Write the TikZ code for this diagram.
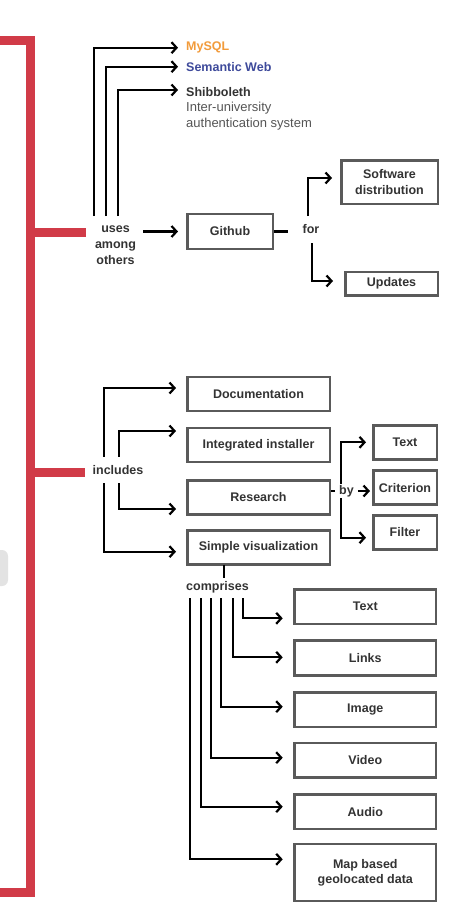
\documentclass[tikz,border=0pt]{standalone}
\usepackage{fontspec}
\setmainfont{Liberation Sans}
\usetikzlibrary{arrows.meta}
\definecolor{redc}{HTML}{D13B48}
\definecolor{boxc}{HTML}{5A5A5A}
\definecolor{txtc}{HTML}{333333}
\definecolor{subc}{HTML}{555555}
\definecolor{orc}{HTML}{F29B3B}
\definecolor{bluec}{HTML}{3E4A9B}
\begin{document}
\begin{tikzpicture}[x=1pt,y=-1pt,
 box/.style={draw=boxc, line width=2.5pt, text=txtc, font=\bfseries\fontsize{12.5}{16}\selectfont, inner sep=0pt, align=center},
 lbl/.style={text=txtc, font=\bfseries\fontsize{12.5}{16}\selectfont, inner sep=0pt, align=center},
 toptxt/.style={anchor=west, inner sep=0pt, font=\bfseries\fontsize{12.5}{16}\selectfont},
 subtxt/.style={anchor=west, inner sep=0pt, text=subc, font=\fontsize{13}{16}\selectfont},
 arr/.style={line width=2.2pt, -{Straight Barb[length=5pt,width=11pt]}},
 ln/.style={line width=2.2pt},
 redline/.style={draw=redc, line width=9pt}]
\useasboundingbox (0,0) rectangle (450,910);
\fill[white] (0,0) rectangle (450,910);
\begin{scope}
\clip (0,0) rectangle (450,910);
\fill[black!11, rounded corners=6pt] (-20,550) rectangle (8,586);
\end{scope}

% red bracket
\draw[redline] (0,40) -- (30.5,40) -- (30.5,892.8) -- (0,892.8);
\draw[redline] (30.5,232) -- (86,232);
\draw[redline] (30.5,472) -- (85,472);

% top section
\node[toptxt, text=orc] (mysql) at (186,47.7) {MySQL};
\node[toptxt, text=bluec] (sem) at (186,67.5) {Semantic Web};
\node[toptxt, text=txtc] (shib) at (186,92) {Shibboleth};
\node[subtxt] (shib2) at (186,108) {Inter-university};
\node[subtxt] (shib3) at (186,124) {authentication system};

\node[lbl] (uses) at (115.5,245.5) {uses\\among\\others};
\draw[arr] (93.7,216) |- ([xshift=-8pt]mysql.west);
\draw[arr] (106,216) |- ([xshift=-8pt,yshift=0.8pt]sem.west);
\draw[arr] (118,216) |- ([xshift=-8pt,yshift=2pt]shib.west);

\node[box, minimum width=85.5pt, minimum height=34.8pt] (github) at (230,231.5) {Github};
\node[box, minimum width=96.5pt, minimum height=43.5pt] (soft) at (389.5,182) {Software\\distribution};
\node[box, minimum width=92.5pt, minimum height=23.5pt] (upd) at (391.5,283.7) {Updates};
\draw[arr] (143,231.5) -- ([xshift=-8pt]github.west);
\draw[ln] (github.east) -- (288,231.5);
\node[lbl] (for) at (311,229) {for};
\draw[arr] (308,216) |- ([xshift=-8pt,yshift=4pt]soft.west);
\draw[arr] (312,243) |- ([xshift=-11pt,yshift=2.7pt]upd.west);

% middle section
\node[lbl] (inc) at (118,470) {includes};
\node[box, minimum width=142.5pt, minimum height=34pt] (doc) at (258.5,394) {Documentation};
\node[box, minimum width=142.5pt, minimum height=34pt] (inst) at (258.5,445) {Integrated installer};
\node[box, minimum width=142.5pt, minimum height=34pt] (res) at (258.5,497.5) {Research};
\node[box, minimum width=142.5pt, minimum height=34pt] (vis) at (258.5,547.3) {Simple visualization};
\draw[arr] (103.7,456.7) |- ([xshift=-10pt,yshift=6pt]doc.west);
\draw[arr] (118.7,456.7) |- ([xshift=-10pt,yshift=14pt]inst.west);
\draw[arr] (118.7,483) |- ([xshift=-10pt,yshift=-11.5pt]res.west);
\draw[arr] (103.7,483) |- ([xshift=-10pt,yshift=-4.4pt]vis.west);

\node[box, minimum width=63.5pt, minimum height=34pt] (btext) at (405,442.3) {Text};
\node[box, minimum width=63.5pt, minimum height=34pt] (bcrit) at (405,487.7) {Criterion};
\node[box, minimum width=63.5pt, minimum height=34pt] (bfilt) at (405,532.3) {Filter};
\draw[ln] ([yshift=6.5pt]res.east) -- ++(4,0);
\draw[arr] (341,491) |- ([xshift=-6pt]btext.west);
\draw[arr] (341,491) |- ([xshift=-6pt,yshift=-5.4pt]bfilt.west);
\node[lbl, fill=white, inner sep=1pt] (by) at (346.5,491) {by};
\draw[arr] ([xshift=3pt]by.east) -- ([xshift=-2pt]by.east -| bcrit.west);

% comprises section
\draw[ln] (224,564.5) -- (224,578);
\node[lbl] (comp) at (217.5,587.3) {comprises};
\node[box, minimum width=141.5pt, minimum height=34.2pt] (ctext) at (365.3,606.7) {Text};
\node[box, minimum width=141.5pt, minimum height=34.9pt] (clinks) at (365.3,658) {Links};
\node[box, minimum width=141.5pt, minimum height=34.8pt] (cimage) at (365.3,709.7) {Image};
\node[box, minimum width=141.5pt, minimum height=34.8pt] (cvideo) at (365.3,760.3) {Video};
\node[box, minimum width=141.5pt, minimum height=34.2pt] (caudio) at (365.3,811.7) {Audio};
\node[box, minimum width=141.5pt, minimum height=57.1pt, font=\bfseries\fontsize{12.5}{15}\selectfont] (cmap) at (365.3,872.5) {Map based\\geolocated data};
\draw[arr] (243.3,598.3) |- ([xshift=-10.6pt,yshift=-11.6pt]ctext.west);
\draw[arr] (232.7,598.3) |- ([xshift=-10.6pt,yshift=0.7pt]clinks.west);
\draw[arr] (221.3,598.3) |- ([xshift=-10.6pt,yshift=3pt]cimage.west);
\draw[arr] (211,598.3) |- ([xshift=-10.6pt,yshift=2.6pt]cvideo.west);
\draw[arr] (200.7,598.3) |- ([xshift=-10.6pt,yshift=5pt]caudio.west);
\draw[arr] (190,598.3) |- ([xshift=-10.6pt,yshift=13.2pt]cmap.west);
\end{tikzpicture}
\end{document}
